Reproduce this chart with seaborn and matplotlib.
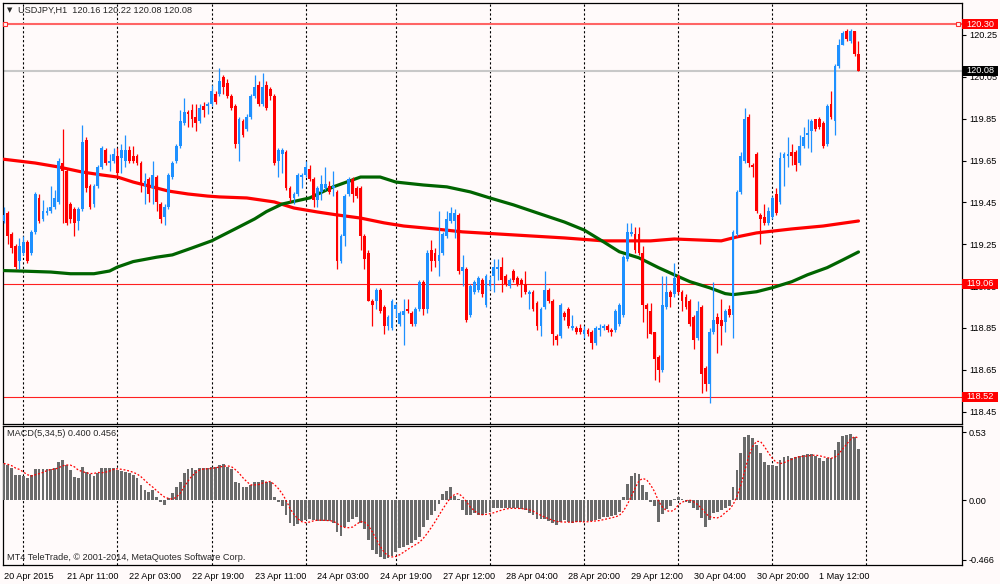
import numpy as np
import pandas as pd
import matplotlib
matplotlib.use("Agg")
import matplotlib.pyplot as plt
import matplotlib.transforms as mtransforms
from matplotlib.patches import Rectangle
import seaborn as sns

# ---- data: USDJPY H1 candles (O/H/L/C), one per bar ----
opens = [119.36, 119.40, 119.30, 119.24, 119.17, 119.21, 119.26, 119.21, 119.31, 119.47,
         119.37, 119.40, 119.41, 119.43, 119.45, 119.64, 119.60, 119.44, 119.42, 119.36,
         119.42, 119.75, 119.53, 119.44, 119.53, 119.62, 119.70, 119.64, 119.65, 119.67,
         119.66, 119.65, 119.70, 119.67, 119.67, 119.64, 119.53, 119.56, 119.52, 119.57,
         119.44, 119.38, 119.43, 119.57, 119.65, 119.72, 119.83, 119.88, 119.89, 119.86,
         119.84, 119.91, 119.91, 119.92, 119.97, 119.97, 120.05, 120.02, 119.96, 119.91,
         119.73, 119.84, 119.80, 119.86, 119.96, 120.01, 119.92, 120.01, 119.99, 119.96,
         119.65, 119.68, 119.69, 119.52, 119.47, 119.49, 119.57, 119.58, 119.61, 119.56,
         119.46, 119.50, 119.52, 119.53, 119.52, 119.50, 119.17, 119.29, 119.49, 119.56,
         119.52, 119.52, 119.29, 119.21, 118.98, 118.98, 119.03, 118.95, 118.86, 118.85,
         118.94, 118.87, 118.91, 118.94, 118.92, 118.87, 118.94, 119.07, 118.94, 119.22,
         119.21, 119.17, 119.21, 119.29, 119.36, 119.36, 119.39, 119.12, 119.13, 118.91,
         119.02, 119.03, 119.08, 118.96, 119.05, 119.10, 119.13, 119.14, 119.10, 119.05,
         119.12, 119.09, 119.08, 119.06, 119.01, 119.02, 118.97, 118.86, 118.95, 119.03,
         118.98, 118.81, 118.81, 118.92, 118.94, 118.85, 118.85, 118.85, 118.82, 118.84,
         118.83, 118.78, 118.84, 118.85, 118.86, 118.84, 118.84, 118.87, 118.91, 119.18,
         119.30, 119.30, 119.30, 119.21, 118.96, 118.93, 118.83, 118.71, 118.65, 118.95,
         119.02, 119.01, 119.10, 119.02, 119.00, 118.98, 118.90, 118.80, 118.95, 118.66,
         118.58, 118.83, 118.90, 118.89, 118.88, 118.94, 118.91, 119.30, 119.50, 119.65,
         119.86, 119.63, 119.68, 119.39, 119.38, 119.35, 119.38, 119.49, 119.45, 119.66,
         119.67, 119.69, 119.69, 119.64, 119.72, 119.77, 119.79, 119.85, 119.85, 119.83,
         119.73, 119.92, 119.84, 120.10, 120.20, 120.27, 120.22, 120.27, 120.16]
highs = [119.43, 119.41, 119.31, 119.25, 119.28, 119.29, 119.27, 119.32, 119.50, 119.49,
         119.46, 119.43, 119.53, 119.51, 119.66, 119.80, 119.61, 119.45, 119.43, 119.43,
         119.82, 119.76, 119.54, 119.54, 119.63, 119.72, 119.71, 119.68, 119.71, 119.71,
         119.73, 119.77, 119.72, 119.72, 119.68, 119.65, 119.59, 119.57, 119.65, 119.58,
         119.45, 119.44, 119.59, 119.65, 119.73, 119.89, 119.95, 119.89, 119.92, 119.92,
         119.92, 119.93, 119.93, 120.01, 119.98, 120.09, 120.06, 120.04, 119.97, 119.92,
         119.86, 119.85, 119.87, 119.97, 120.06, 120.03, 120.07, 120.03, 120.00, 119.97,
         119.71, 119.71, 119.70, 119.53, 119.50, 119.59, 119.59, 119.65, 119.63, 119.57,
         119.53, 119.58, 119.62, 119.55, 119.60, 119.51, 119.30, 119.49, 119.57, 119.57,
         119.53, 119.53, 119.30, 119.22, 118.99, 119.04, 119.04, 118.96, 118.91, 118.99,
         118.97, 118.93, 118.99, 118.99, 118.93, 118.95, 119.08, 119.08, 119.22, 119.27,
         119.23, 119.41, 119.31, 119.41, 119.43, 119.42, 119.40, 119.20, 119.14, 119.06,
         119.08, 119.10, 119.09, 119.11, 119.10, 119.18, 119.18, 119.19, 119.11, 119.09,
         119.13, 119.10, 119.09, 119.12, 119.03, 119.03, 118.98, 118.95, 119.12, 119.04,
         118.99, 118.82, 118.97, 118.93, 118.95, 118.91, 118.86, 118.87, 118.86, 118.85,
         118.84, 118.86, 118.87, 118.87, 118.87, 118.85, 118.94, 118.97, 119.20, 119.35,
         119.35, 119.33, 119.33, 119.24, 118.97, 118.97, 118.83, 118.72, 119.10, 119.10,
         119.03, 119.16, 119.11, 119.03, 119.01, 118.99, 118.91, 118.98, 118.96, 118.67,
         118.85, 119.07, 118.92, 118.99, 118.94, 118.96, 119.32, 119.51, 119.69, 119.90,
         119.87, 119.64, 119.69, 119.40, 119.44, 119.43, 119.48, 119.52, 119.69, 119.69,
         119.76, 119.73, 119.70, 119.77, 119.81, 119.85, 119.85, 119.85, 119.86, 119.84,
         119.92, 119.98, 120.11, 120.23, 120.27, 120.28, 120.28, 120.27, 120.22]
lows = [119.35, 119.25, 119.21, 119.13, 119.13, 119.20, 119.16, 119.20, 119.30, 119.35,
        119.36, 119.39, 119.40, 119.42, 119.44, 119.35, 119.34, 119.35, 119.29, 119.32,
        119.41, 119.50, 119.42, 119.43, 119.52, 119.61, 119.63, 119.60, 119.64, 119.58,
        119.59, 119.62, 119.64, 119.64, 119.63, 119.50, 119.44, 119.45, 119.44, 119.41,
        119.35, 119.34, 119.42, 119.56, 119.64, 119.71, 119.82, 119.81, 119.81, 119.79,
        119.83, 119.86, 119.87, 119.91, 119.92, 119.96, 119.97, 119.95, 119.89, 119.71,
        119.65, 119.76, 119.79, 119.85, 119.95, 119.91, 119.91, 119.89, 119.94, 119.63,
        119.57, 119.59, 119.51, 119.45, 119.44, 119.48, 119.52, 119.57, 119.55, 119.43,
        119.43, 119.46, 119.51, 119.49, 119.48, 119.13, 119.16, 119.24, 119.48, 119.45,
        119.47, 119.22, 119.13, 118.98, 118.86, 118.94, 118.92, 118.82, 118.84, 118.84,
        118.90, 118.86, 118.77, 118.92, 118.86, 118.86, 118.93, 118.91, 118.92, 119.12,
        119.14, 119.10, 119.20, 119.28, 119.35, 119.28, 119.11, 119.05, 118.88, 118.90,
        119.01, 119.02, 119.00, 118.95, 119.03, 119.02, 119.08, 119.02, 119.05, 119.04,
        119.07, 119.05, 119.00, 119.01, 118.94, 118.93, 118.84, 118.81, 118.94, 118.97,
        118.77, 118.77, 118.80, 118.89, 118.85, 118.84, 118.82, 118.82, 118.80, 118.81,
        118.75, 118.77, 118.81, 118.84, 118.83, 118.81, 118.83, 118.86, 118.90, 119.17,
        119.29, 119.21, 119.20, 118.88, 118.80, 118.82, 118.60, 118.59, 118.64, 118.94,
        118.95, 119.00, 119.01, 118.93, 118.94, 118.86, 118.75, 118.79, 118.54, 118.55,
        118.49, 118.82, 118.73, 118.77, 118.83, 118.90, 118.80, 119.29, 119.49, 119.64,
        119.62, 119.57, 119.40, 119.25, 119.34, 119.34, 119.37, 119.39, 119.44, 119.53,
        119.62, 119.63, 119.60, 119.63, 119.71, 119.71, 119.69, 119.79, 119.80, 119.71,
        119.72, 119.85, 119.77, 120.09, 120.20, 120.22, 120.21, 120.15, 120.08]
closes = [119.39, 119.29, 119.23, 119.14, 119.24, 119.26, 119.17, 119.31, 119.49, 119.36,
          119.41, 119.41, 119.43, 119.47, 119.65, 119.60, 119.35, 119.37, 119.35, 119.42,
          119.74, 119.52, 119.43, 119.53, 119.62, 119.71, 119.64, 119.65, 119.68, 119.59,
          119.70, 119.70, 119.65, 119.65, 119.64, 119.54, 119.55, 119.49, 119.58, 119.45,
          119.37, 119.43, 119.58, 119.64, 119.72, 119.84, 119.88, 119.87, 119.85, 119.83,
          119.90, 119.89, 119.92, 119.98, 119.93, 120.03, 120.00, 119.96, 119.90, 119.73,
          119.85, 119.77, 119.86, 119.96, 120.00, 119.92, 120.00, 119.90, 119.96, 119.64,
          119.70, 119.70, 119.52, 119.47, 119.49, 119.58, 119.58, 119.62, 119.56, 119.46,
          119.52, 119.54, 119.54, 119.50, 119.53, 119.17, 119.29, 119.48, 119.56, 119.49,
          119.48, 119.29, 119.18, 118.98, 118.96, 119.03, 118.93, 118.86, 118.90, 118.98,
          118.96, 118.92, 118.93, 118.93, 118.87, 118.94, 119.07, 118.94, 119.21, 119.17,
          119.17, 119.20, 119.30, 119.37, 119.40, 119.40, 119.12, 119.14, 118.89, 119.05,
          119.07, 119.09, 119.01, 119.10, 119.08, 119.14, 119.14, 119.08, 119.06, 119.08,
          119.08, 119.06, 119.06, 119.02, 119.02, 118.94, 118.86, 118.94, 119.03, 118.98,
          118.82, 118.79, 118.96, 118.90, 118.86, 118.86, 118.83, 118.83, 118.84, 118.82,
          118.78, 118.85, 118.85, 118.86, 118.84, 118.83, 118.93, 118.96, 119.19, 119.31,
          119.31, 119.22, 119.21, 118.96, 118.94, 118.82, 118.70, 118.65, 118.96, 119.02,
          119.00, 119.09, 119.02, 118.98, 118.95, 118.87, 118.79, 118.93, 118.63, 118.58,
          118.83, 118.89, 118.87, 118.86, 118.93, 118.91, 119.31, 119.50, 119.67, 119.85,
          119.64, 119.62, 119.41, 119.37, 119.35, 119.41, 119.47, 119.40, 119.66, 119.68,
          119.68, 119.67, 119.63, 119.72, 119.76, 119.78, 119.84, 119.80, 119.81, 119.72,
          119.91, 119.86, 120.10, 120.20, 120.26, 120.23, 120.27, 120.16, 120.08]

# moving averages, sampled along the line (bar index, price)
red_ma_bar = [0, 8, 14, 20, 25, 29, 33, 37, 42, 47, 52, 55, 62, 69, 74, 80, 85, 91, 97,
              102, 110, 117, 126, 134, 143, 153, 165, 171, 183, 187, 192, 201, 209, 218]
red_ma = [119.656, 119.638, 119.619, 119.595, 119.581, 119.571, 119.547, 119.528, 119.504,
          119.490, 119.480, 119.476, 119.471, 119.452, 119.423, 119.404, 119.390, 119.375,
          119.352, 119.337, 119.323, 119.309, 119.299, 119.290, 119.280, 119.266, 119.266,
          119.275, 119.266, 119.285, 119.304, 119.323, 119.337, 119.361]
green_ma_bar = [0, 4, 12, 17, 23, 27, 29, 33, 39, 43, 48, 53, 59, 64, 67, 71, 78, 84, 91,
                96, 100, 107, 113, 119, 124, 130, 136, 143, 148, 153, 157, 162, 167, 171,
                175, 180, 184, 186, 192, 196, 201, 205, 210, 214, 218]
green_ma = [119.124, 119.122, 119.117, 119.109, 119.109, 119.122, 119.141, 119.167, 119.188,
            119.199, 119.232, 119.266, 119.323, 119.371, 119.406, 119.442, 119.471, 119.524,
            119.571, 119.571, 119.547, 119.533, 119.524, 119.500, 119.471, 119.438, 119.400,
            119.356, 119.318, 119.261, 119.214, 119.185, 119.138, 119.104, 119.071, 119.042,
            119.014, 119.009, 119.023, 119.042, 119.071, 119.104, 119.138, 119.175, 119.213]

# MACD(5,34,5) histogram
macd = [0.286, 0.273, 0.247, 0.195, 0.195, 0.187, 0.169, 0.195, 0.239, 0.239,
        0.239, 0.239, 0.239, 0.247, 0.299, 0.312, 0.273, 0.234, 0.182, 0.169,
        0.260, 0.221, 0.203, 0.187, 0.208, 0.247, 0.247, 0.247, 0.247, 0.234,
        0.226, 0.221, 0.208, 0.195, 0.169, 0.117, 0.078, 0.065, 0.078, 0.026,
        -0.013, -0.039, 0.013, 0.052, 0.099, 0.143, 0.213, 0.239, 0.247, 0.234,
        0.247, 0.247, 0.247, 0.260, 0.260, 0.273, 0.281, 0.260, 0.239, 0.143,
        0.130, 0.099, 0.104, 0.117, 0.143, 0.143, 0.156, 0.143, 0.143, 0.026,
        -0.013, -0.047, -0.117, -0.177, -0.203, -0.187, -0.161, -0.156, -0.151, -0.156,
        -0.161, -0.164, -0.161, -0.161, -0.177, -0.247, -0.278, -0.208, -0.169, -0.151,
        -0.135, -0.177, -0.229, -0.312, -0.390, -0.421, -0.447, -0.462, -0.455, -0.436,
        -0.403, -0.377, -0.364, -0.351, -0.338, -0.312, -0.286, -0.208, -0.156, -0.117,
        -0.083, -0.031, 0.047, 0.073, 0.099, 0.031, 0.005, -0.078, -0.117, -0.117,
        -0.104, -0.117, -0.117, -0.104, -0.091, -0.065, -0.065, -0.065, -0.065, -0.065,
        -0.065, -0.065, -0.073, -0.078, -0.099, -0.117, -0.151, -0.151, -0.151, -0.161,
        -0.177, -0.195, -0.169, -0.156, -0.169, -0.177, -0.169, -0.169, -0.169, -0.161,
        -0.161, -0.156, -0.151, -0.135, -0.130, -0.125, -0.117, -0.091, 0.026, 0.125,
        0.187, 0.213, 0.203, 0.117, 0.065, -0.013, -0.047, -0.169, -0.109, -0.073,
        -0.047, 0.005, 0.026, 0.005, -0.013, -0.026, -0.065, -0.078, -0.143, -0.208,
        -0.156, -0.099, -0.091, -0.078, -0.065, -0.047, 0.099, 0.234, 0.369, 0.494,
        0.512, 0.488, 0.429, 0.364, 0.299, 0.273, 0.273, 0.265, 0.312, 0.338,
        0.343, 0.332, 0.338, 0.343, 0.351, 0.358, 0.358, 0.343, 0.325, 0.306,
        0.325, 0.332, 0.390, 0.455, 0.499, 0.512, 0.519, 0.494, 0.400]

date_labels = ["20 Apr 2015", "21 Apr 11:00", "22 Apr 03:00", "22 Apr 19:00", "23 Apr 11:00",
               "24 Apr 03:00", "24 Apr 19:00", "27 Apr 12:00", "28 Apr 04:00", "28 Apr 20:00",
               "29 Apr 12:00", "30 Apr 04:00", "30 Apr 20:00", "1 May 12:00"]
date_bars = [0, 16, 32, 48, 64, 80, 96, 112, 128, 144, 160, 176, 192, 208]
day_bars = [5, 29, 53, 77, 100, 124, 148, 172, 196, 220]
price_ticks = [118.45, 118.65, 118.85, 119.05, 119.25, 119.45, 119.65, 119.85, 120.05, 120.25]
levels = [120.30, 119.06, 118.52]
bid = 120.08
macd_ticks = [0.53, 0.0, -0.466]
macd_tick_labels = ["0.53", "0.00", "-0.466"]

# ---- drawing ----
sns.set_style("white")
plt.rcParams['font.family'] = ['Liberation Sans', 'DejaVu Sans']
bg = '#FFFAFA'
fs = 6.6

fig = plt.figure(figsize=(10, 5.84), dpi=100, facecolor=bg)
ax = fig.add_axes([0.003, 0.274, 0.959, 0.721], facecolor=bg)
ax2 = fig.add_axes([0.003, 0.0317, 0.959, 0.2385], facecolor=bg)

df = pd.DataFrame({"o": opens, "h": highs, "l": lows, "c": closes})
df["i"] = np.arange(len(df))
col = np.where(df.c >= df.o, '#1E90FF', '#FF0000')

for d in day_bars:
    ax.axvline(d, color='black', lw=0.8, ls=(0, (2, 2)), zorder=1)
    ax2.axvline(d, color='black', lw=0.8, ls=(0, (2, 2)), zorder=1)

ax.axhline(levels[0], color='#FF6464', lw=1.5, zorder=2)
for lv in levels[1:]:
    ax.axhline(lv, color='#FF2020', lw=0.8, zorder=2)
ax.axhline(bid, color='#C8C8C8', lw=1.5, zorder=2)
ax.plot([0.3, 243.4], [levels[0]] * 2, ls='none', marker='s', ms=3.2,
        mfc=bg, mec='#FF3030', mew=0.8, zorder=6, clip_on=False)

sns.lineplot(x=red_ma_bar, y=red_ma, color='#FF0000', lw=2.3, ax=ax, zorder=3)
sns.lineplot(x=green_ma_bar, y=green_ma, color='#006400', lw=2.3, ax=ax, zorder=3)

ax.vlines(df.i, df.l, df.h, colors=col, lw=0.9, zorder=4)
body = (df.c - df.o).abs().clip(lower=0.005)
ax.bar(df.i, body, bottom=df[["o", "c"]].min(axis=1), width=0.72, color=col,
       linewidth=0, zorder=5)

ax.set_xlim(-0.2, 244.4)
ax.set_ylim(118.391, 120.403)
ax.set_xticks([])
ax.yaxis.tick_right()
ax.set_yticks(price_ticks)
ax.set_yticklabels([f"{t:.2f}" for t in price_ticks])
ax.tick_params(axis='y', direction='out', length=3, width=0.8, pad=2,
               labelsize=fs, colors='black')
ax.set_xlabel("")
ax.set_ylabel("")

# price label boxes on the right scale
trans = mtransforms.blended_transform_factory(ax.transAxes, ax.transData)
box_w = 36 / 959
box_h = 5 / 209.3
for lv, fc in [(levels[0], '#FF0000'), (bid, 'black'), (levels[1], '#FF0000'), (levels[2], '#FF0000')]:
    ax.add_patch(Rectangle((1.0, lv - box_h), box_w, 2 * box_h, transform=trans,
                           fc=fc, ec='none', clip_on=False, zorder=9))
    ax.text(1.0 + box_w / 2, lv, f"{lv:.2f}", transform=trans, va='center', ha='center',
            color='white', fontsize=fs, clip_on=False, zorder=10)

# MACD panel
idx = np.arange(len(macd))
sns.barplot(x=idx, y=macd, native_scale=True, color='#6A6A6A', width=0.72,
            saturation=1, errorbar=None, linewidth=0, ax=ax2, zorder=3)
signal = pd.Series(macd).rolling(5, min_periods=1).mean()
sns.lineplot(x=idx, y=signal.values, color='#FF0000', lw=0.9, ls=(0, (1.5, 1.5)),
             ax=ax2, zorder=4)

ax2.set_xlim(-0.2, 244.4)
ax2.set_ylim(-0.511, 0.577)
ax2.yaxis.tick_right()
ax2.set_yticks(macd_ticks)
ax2.set_yticklabels(macd_tick_labels)
ax2.set_xticks(date_bars)
ax2.set_xticklabels(date_labels, ha='left')
ax2.tick_params(axis='y', direction='out', length=3, width=0.8, pad=2,
                labelsize=fs, colors='black')
ax2.tick_params(axis='x', direction='out', length=3, width=0.8, pad=1.5,
                labelsize=fs, colors='black')
ax2.set_xlabel("")
ax2.set_ylabel("")

for a in (ax, ax2):
    for s in a.spines.values():
        s.set_visible(True)
        s.set_color('black')
        s.set_linewidth(0.9)

fig.text(0.007, 1 - 10 / 584, "\u25bc", fontsize=5, va='center', ha='left',
         family=['DejaVu Sans'])
fig.text(0.018, 1 - 10 / 584, "USDJPY,H1  120.16 120.22 120.08 120.08",
         fontsize=fs, va='center', ha='left')
fig.text(0.007, 1 - 434 / 584, "MACD(5,34,5) 0.400 0.456",
         fontsize=fs, va='center', ha='left')
fig.text(0.007, 1 - 558 / 584, "MT4 TeleTrade, \u00a9 2001-2014, MetaQuotes Software Corp.",
         fontsize=fs, va='center', ha='left')

fig.savefig("out.png", dpi=100, facecolor=bg)
